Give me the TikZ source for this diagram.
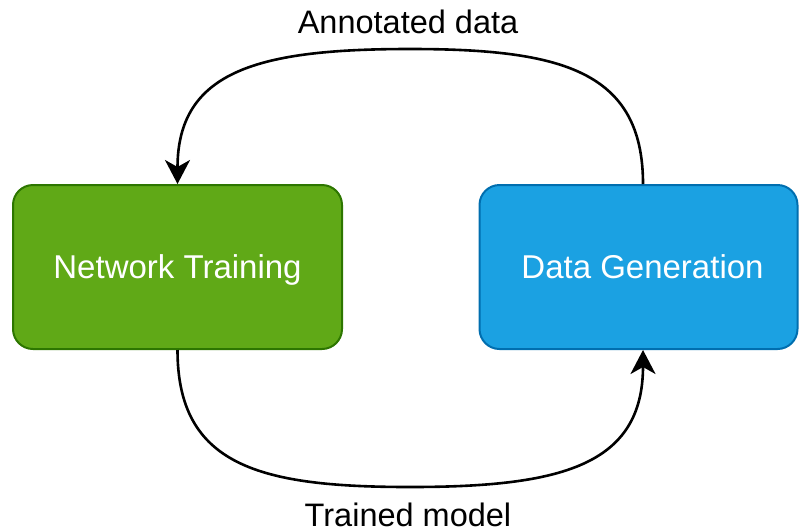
\documentclass[tikz,border=0pt]{standalone}
\usepackage{fontspec}
\setmainfont{Liberation Sans}
\usetikzlibrary{arrows.meta}
\definecolor{trainfill}{HTML}{60A917}
\definecolor{trainline}{HTML}{2D7600}
\definecolor{genfill}{HTML}{1BA1E2}
\definecolor{genline}{HTML}{006EAF}
\tikzset{
  stagebox/.style={line width=2pt, rounded corners=20pt, minimum height=164pt,
    text=white, font=\fontsize{33}{39}\selectfont, inner sep=0pt, text depth=0pt},
  flow/.style={line width=2.6pt, -{Stealth[length=24pt,width=25pt,inset=7pt]}},
  flowlabel/.style={font=\fontsize{32.5}{39}\selectfont, anchor=base, inner sep=0pt}
}
\begin{document}
\begin{tikzpicture}[x=1pt,y=-1pt]
\useasboundingbox (0,0) rectangle (799,531);
\node[stagebox, fill=trainfill, draw=trainline, minimum width=329pt] (nt) at (177.5,267) {Network Training};
\node[stagebox, fill=genfill, draw=genline, minimum width=318pt] (dg) at (638.5,267) {\hspace*{8pt}Data Generation};
\coordinate (dgtop) at ([xshift=4.5pt]dg.north);
\coordinate (dgbot) at ([xshift=4.5pt]dg.south);
\coordinate (topmid) at (410,49);
\coordinate (botmid) at (410,487);
% data flows back to training
\draw[flow] (dgtop) .. controls (643,70) and (560,49) .. (topmid)
  .. controls (260,49) and (177.5,70) .. (nt.north);
% trained model goes to generation
\draw[flow] (nt.south) .. controls (177.5,466) and (260,487) .. (botmid)
  .. controls (560,487) and (643,466) .. (dgbot);
\node[flowlabel] (lbltop) at (408,33) {Annotated data};
\node[flowlabel] (lblbot) at (408,526) {Trained model};
\end{tikzpicture}
\end{document}
